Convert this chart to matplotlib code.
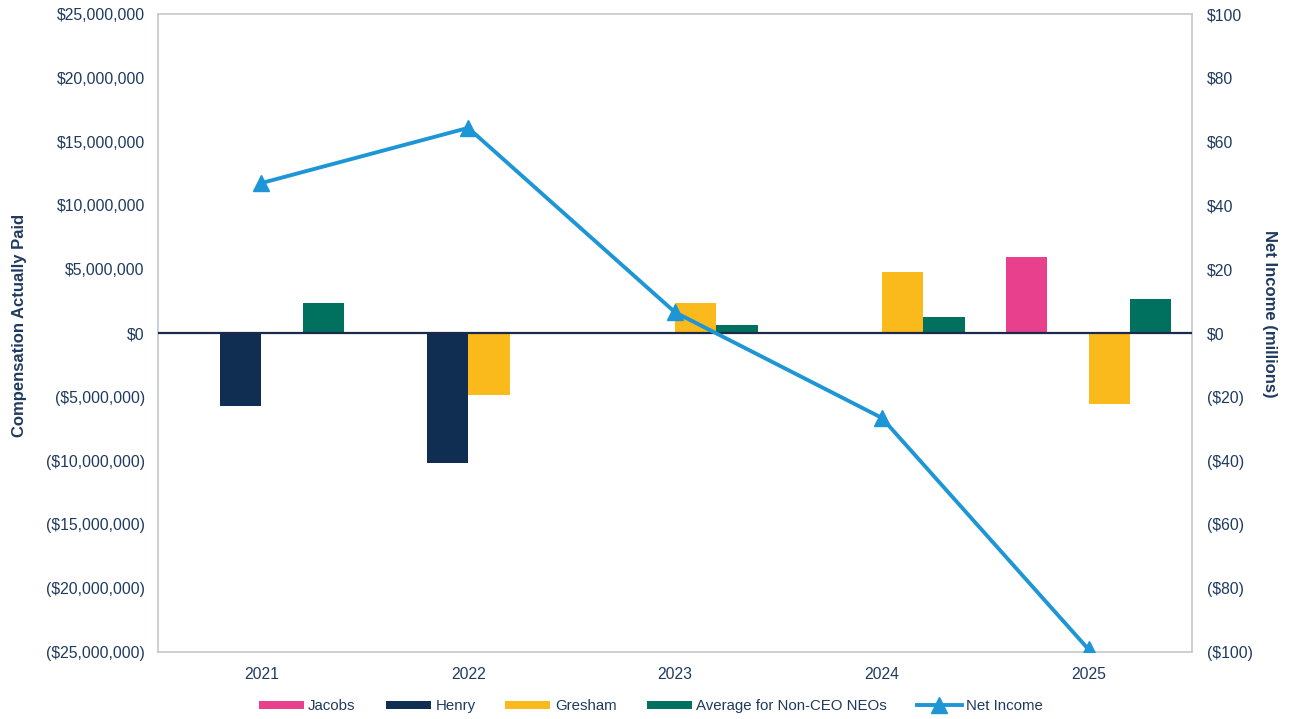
import numpy as np
import matplotlib
matplotlib.use("Agg")
import matplotlib.pyplot as plt
from matplotlib.ticker import FuncFormatter, MultipleLocator

plt.rcParams['font.family'] = ['Liberation Sans', 'DejaVu Sans']

years = ["2021", "2022", "2023", "2024", "2025"]

# compensation actually paid, dollars
jacobs = [0, 0, 0, 0, 5_930_000]
henry = [-5_700_000, -10_150_000, 0, 0, 0]
gresham = [0, -4_850_000, 2_350_000, 4_800_000, -5_600_000]
avg_neo = [2_350_000, -100_000, 630_000, 1_230_000, 2_660_000]

# net income, millions
net_income = [47, 64.3, 6.5, -26.6, -99.2]

series = [
    ("Jacobs", jacobs, "#E8408D"),
    ("Henry", henry, "#0F2E52"),
    ("Gresham", gresham, "#FBBA1C"),
    ("Average for Non-CEO NEOs", avg_neo, "#00705F"),
]
navy = "#1F3A5F"
line_blue = "#1E96D6"


def money(v, pos=None):
    s = "${:,.0f}".format(abs(v))
    return "(" + s + ")" if v < 0 else s


fig = plt.figure(figsize=(12.89, 7.19), dpi=100)
ax = fig.add_axes([158 / 1289, (719 - 652) / 719, 1034 / 1289, 638 / 719])

x = np.arange(len(years))
w = 0.2
for i, (name, vals, col) in enumerate(series):
    ax.bar(x + (i - 1.5) * w, vals, width=w, color=col, label=name, zorder=2)

ax.axhline(0, color="#1B2A4A", lw=1.6, zorder=3)
ax.set_xlim(-0.5, len(years) - 0.5)
ax.set_ylim(-25_000_000, 25_000_000)
ax.yaxis.set_major_locator(MultipleLocator(5_000_000))
ax.yaxis.set_major_formatter(FuncFormatter(money))
ax.set_xticks(x)
ax.set_xticklabels(years)
ax.tick_params(length=0, labelsize=11.3, labelcolor=navy)
ax.tick_params(axis="x", pad=11)
ax.tick_params(axis="y", pad=9.5)
ax.set_ylabel("Compensation Actually Paid", fontsize=12, fontweight="bold",
              color=navy)
ax.yaxis.set_label_coords(-0.1335, 0.5125)
ax.yaxis.label.set_va("center")
for s in ax.spines.values():
    s.set_color("#C4C8CE")
    s.set_linewidth(1.2)

ax2 = ax.twinx()
ax2.plot(x, net_income, color=line_blue, lw=2.8, marker="^", markersize=11,
         label="Net Income", zorder=4)
ax2.set_ylim(-100, 100)
ax2.yaxis.set_major_locator(MultipleLocator(20))
ax2.yaxis.set_major_formatter(FuncFormatter(money))
ax2.tick_params(length=0, labelsize=11.3, labelcolor=navy, pad=11)
ax2.set_ylabel("Net Income (millions)", fontsize=12, fontweight="bold",
               color=navy, rotation=270)
ax2.yaxis.set_label_coords(1.0745, 0.53)
ax2.yaxis.label.set_va("center")
ax2.yaxis.label.set_ha("center")
for s in ax2.spines.values():
    s.set_visible(False)

h1, l1 = ax.get_legend_handles_labels()
h2, l2 = ax2.get_legend_handles_labels()
fig.legend(h1 + h2, l1 + l2, loc="center", bbox_to_anchor=(0.505, 0.018),
           ncol=5, frameon=False, fontsize=10.8, handlelength=3.0,
           handleheight=0.45, columnspacing=2.0, handletextpad=0.3,
           labelcolor=navy)

fig.savefig("out.png", dpi=100)
